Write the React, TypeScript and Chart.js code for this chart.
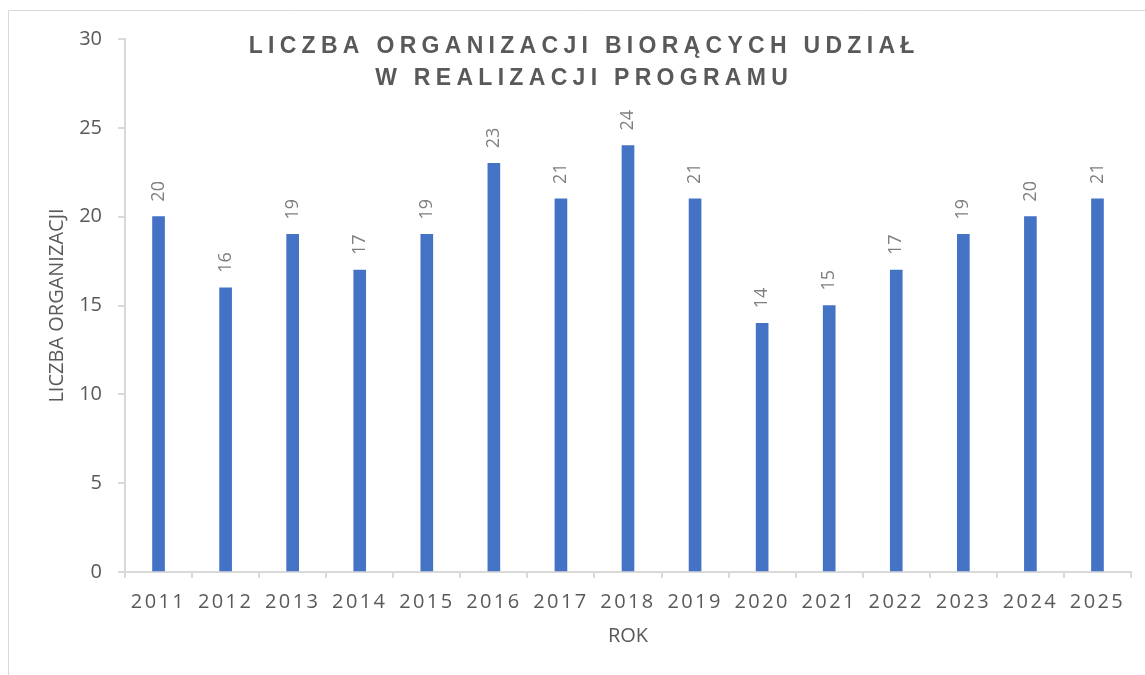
import React, { useEffect, useRef } from 'react';
import { Chart, registerables } from 'chart.js';

Chart.register(...registerables);

const years = ['2011', '2012', '2013', '2014', '2015', '2016', '2017', '2018', '2019', '2020', '2021', '2022', '2023', '2024', '2025'];
const counts = [20, 16, 19, 17, 19, 23, 21, 24, 21, 14, 15, 17, 19, 20, 21];
const titleLines = ['LICZBA ORGANIZACJI BIORĄCYCH UDZIAŁ', 'W REALIZACJI PROGRAMU'];
const yAxisTitle = 'LICZBA ORGANIZACJI';
const xAxisTitle = 'ROK';

const W = 1145;
const H = 675;
const AXIS = '#d9d9d9';
const TEXT = '#595959';

const framePlugin = {
  id: 'frame',
  beforeDraw(chart: any) {
    const ctx = chart.ctx;
    ctx.save();
    ctx.strokeStyle = AXIS;
    ctx.lineWidth = 1;
    ctx.beginPath();
    ctx.moveTo(8.5, H);
    ctx.lineTo(8.5, 10.5);
    ctx.lineTo(W, 10.5);
    ctx.stroke();
    ctx.restore();
    const xs = chart.scales.x;
    if (xs && !xs.__spaced) {
      const orig = xs.drawLabels.bind(xs);
      xs.drawLabels = (area: any) => {
        const c = chart.ctx;
        c.save();
        (c as any).letterSpacing = '2.4px';
        orig(area);
        c.restore();
      };
      xs.__spaced = true;
    }
  },
};

const labelPlugin = {
  id: 'barLabels',
  afterDatasetsDraw(chart: any) {
    const ctx = chart.ctx;
    const meta = chart.getDatasetMeta(0);
    const data = chart.data.datasets[0].data;
    ctx.save();
    ctx.fillStyle = '#7f7f7f';
    ctx.font = '18px "Open Sans"';
    ctx.textAlign = 'left';
    ctx.textBaseline = 'middle';
    meta.data.forEach((bar: any, i: number) => {
      ctx.save();
      ctx.translate(bar.x, bar.y - 15);
      ctx.rotate(-Math.PI / 2);
      ctx.fillText(String(data[i]), 0, 0);
      ctx.restore();
    });
    ctx.restore();
  },
};

const titlePlugin = {
  id: 'overlayTitle',
  afterDraw(chart: any) {
    const ctx = chart.ctx;
    const spacing = 5.3;
    ctx.save();
    ctx.fillStyle = TEXT;
    ctx.font = 'bold 23px "Liberation Sans", Arial, sans-serif';
    (ctx as any).letterSpacing = spacing + 'px';
    ctx.textAlign = 'left';
    ctx.textBaseline = 'alphabetic';
    const cx = 581.5;
    const baselines = [53, 85];
    titleLines.forEach((line, i) => {
      const w = ctx.measureText(line).width - spacing;
      ctx.fillText(line, cx - w / 2, baselines[i]);
    });
    ctx.restore();
  },
};

export default function App() {
  const ref = useRef<HTMLCanvasElement>(null);

  useEffect(() => {
    if (!ref.current) return;
    const chart = new Chart(ref.current, {
      type: 'bar',
      data: {
        labels: years,
        datasets: [
          {
            data: counts,
            backgroundColor: '#4472c4',
            borderWidth: 0,
            barThickness: 12,
          },
        ],
      },
      options: {
        responsive: false,
        animation: false,
        devicePixelRatio: 1,
        layout: { padding: { left: 0, right: 14, top: 39, bottom: 0 } },
        plugins: {
          legend: { display: false },
          tooltip: { enabled: false },
          title: { display: false },
        },
        scales: {
          x: {
            afterFit: (s: any) => {
              s.height = 103;
            },
            grid: {
              offset: true,
              drawOnChartArea: false,
              drawTicks: true,
              tickLength: 6,
              color: AXIS,
              lineWidth: 2,
            },
            border: { display: true, color: AXIS, width: 2 },
            ticks: {
              color: TEXT,
              font: { family: '"Open Sans"', size: 20 },
              padding: 12,
              autoSkip: false,
              maxRotation: 0,
              minRotation: 0,
            },
            title: {
              display: true,
              text: xAxisTitle,
              color: TEXT,
              font: { family: '"Open Sans"', size: 20 },
              padding: { top: 0, bottom: 27 },
            },
          },
          y: {
            min: 0,
            max: 30,
            afterFit: (s: any) => {
              s.width = 125;
            },
            grid: {
              drawOnChartArea: false,
              drawTicks: true,
              tickLength: 7,
              color: AXIS,
              lineWidth: 2,
            },
            border: { display: true, color: AXIS, width: 2 },
            ticks: {
              stepSize: 5,
              color: TEXT,
              font: { family: '"Open Sans"', size: 20 },
              padding: 16,
            },
            title: {
              display: true,
              text: yAxisTitle,
              color: TEXT,
              font: { family: '"Open Sans"', size: 20 },
              padding: { top: 45.5, bottom: 0 },
            },
          },
        },
      },
      plugins: [framePlugin, labelPlugin, titlePlugin],
    });
    return () => chart.destroy();
  }, []);

  return (
    <div style={{ position: 'fixed', left: 0, top: 0, width: W, height: H, background: '#fff' }}>
      <canvas ref={ref} width={W} height={H} style={{ display: 'block', width: W, height: H }} />
    </div>
  );
}
